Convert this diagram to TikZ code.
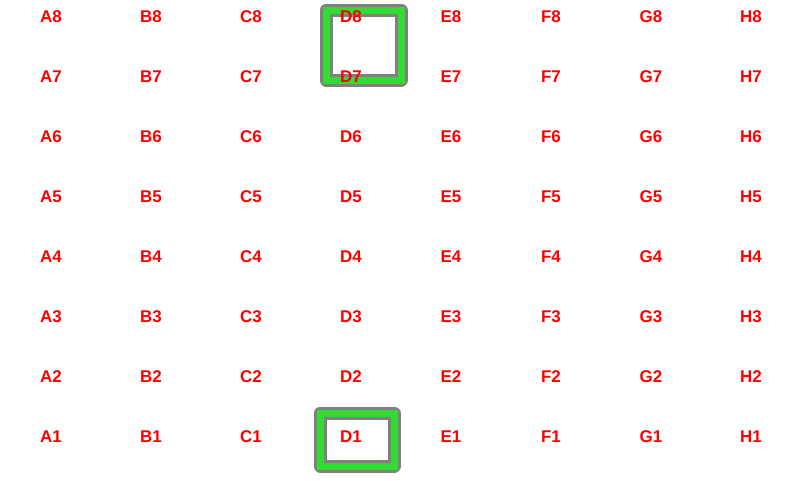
\documentclass[tikz,border=0pt]{standalone}
\usepackage{fontspec}
\setmainfont{Liberation Sans}
\begin{document}
\begin{tikzpicture}[x=1pt,y=-1pt,
  sq/.style={text=labred,font=\fontsize{17}{20}\selectfont\bfseries,anchor=base,inner sep=0pt},
  boxgray/.style={draw=boxgraycol,line width=13pt,line join=round},
  boxgreen/.style={draw=boxgreencol,line width=7pt,line join=miter}]
\definecolor{labred}{RGB}{255,0,0}
\definecolor{boxgraycol}{RGB}{128,128,128}
\definecolor{boxgreencol}{RGB}{50,220,50}
\useasboundingbox[fill=white] (0,0) rectangle (800,480);
% highlight boxes
\draw[boxgray] (326,10) rectangle (401,80);
\draw[boxgreen] (326,10) rectangle (401,80);
\draw[boxgray] (320,413) rectangle (394,466);
\draw[boxgreen] (320,413) rectangle (394,466);
% labels
\foreach \c [count=\i from 0] in {A,B,C,D,E,F,G,H}{
  \foreach \r in {1,...,8}{
    \node[sq] (\c\r) at ({51+100*\i},{22+60*(8-\r)}) {\c\r};
  }
}
\end{tikzpicture}
\end{document}
